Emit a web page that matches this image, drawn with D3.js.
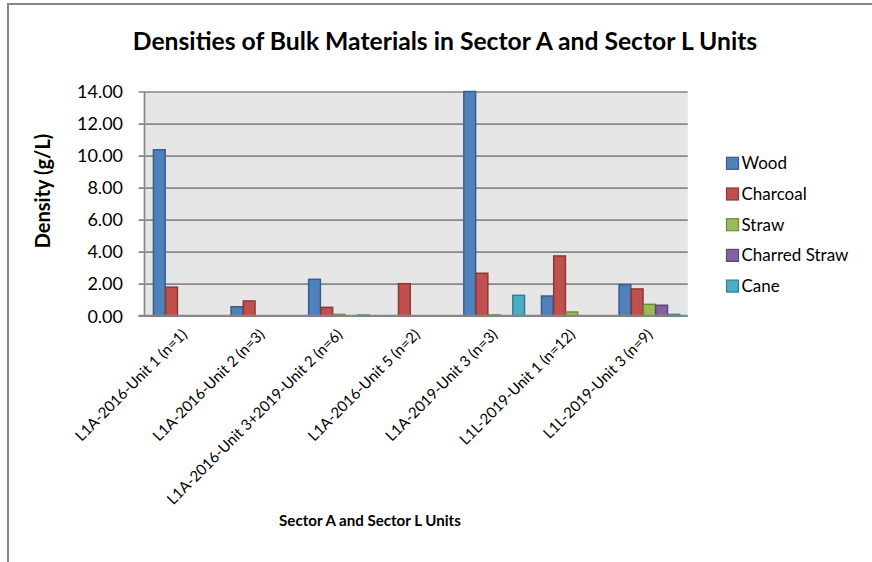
<!DOCTYPE html>
<html>
<head>
<meta charset="utf-8">
<script src="https://cdn.jsdelivr.net/npm/d3@7"></script>
<style>
  html, body { margin: 0; padding: 0; background: #fff; }
  svg { display: block; font-family: Lato, "Open Sans", sans-serif; }
</style>
</head>
<body>
<svg id="chart" width="872" height="562"></svg>
<script>
// Units sampled in Sector A and Sector L
const categories = [
  "L1A-2016-Unit 1 (n=1)",
  "L1A-2016-Unit 2 (n=3)",
  "L1A-2016-Unit 3+2019-Unit 2 (n=6)",
  "L1A-2016-Unit 5 (n=2)",
  "L1A-2019-Unit 3 (n=3)",
  "L1L-2019-Unit 1 (n=12)",
  "L1L-2019-Unit 3 (n=9)"
];

// Density (g/L) per material; null = not present
const wood         = [10.36, 0.56, 2.27, null, 14.00, 1.23, 1.94];
const charcoal     = [1.78, 0.92, 0.52, 2.00, 2.65, 3.73, 1.67];
const straw        = [null, null, 0.08, null, 0.05, 0.23, 0.71];
const charredStraw = [null, null, null, null, null, null, 0.65];
const cane         = [null, null, 0.04, null, 1.27, null, 0.08];

const seriesNames = ["Wood", "Charcoal", "Straw", "Charred Straw", "Cane"];
const yTicks = [0, 2, 4, 6, 8, 10, 12, 14];

const seriesValues = [wood, charcoal, straw, charredStraw, cane];
const fills   = ["#4F81BD", "#C0504D", "#9BBB59", "#8064A2", "#4BACC6"];
const strokes = ["#385D8A", "#8C3836", "#71893F", "#5C4776", "#357D91"];

const svg = d3.select("#chart");

// chart frame
svg.append("rect")
  .attr("x", 8).attr("y", 4)
  .attr("width", 880).attr("height", 580)
  .attr("fill", "#fff")
  .attr("stroke", "#868686")
  .attr("stroke-width", 2);

const plot = { left: 144.5, right: 687.7, top: 91.5, bottom: 315.7 };

const x = d3.scaleBand()
  .domain(categories)
  .range([plot.left, plot.right])
  .paddingInner(0).paddingOuter(0);

const gapHalf = x.bandwidth() * 0.1057;
const xs = d3.scaleBand()
  .domain(seriesNames)
  .range([gapHalf, x.bandwidth() - gapHalf]);

const y = d3.scaleLinear()
  .domain([0, 14])
  .range([plot.bottom, plot.top]);

// plot background
svg.append("rect")
  .attr("x", plot.left).attr("y", plot.top)
  .attr("width", plot.right - plot.left)
  .attr("height", plot.bottom - plot.top)
  .attr("fill", "#E6E6E6");

// y axis with gridlines
const yAxis = d3.axisLeft(y)
  .tickValues(yTicks)
  .tickSize(-(plot.right - plot.left + 6))
  .tickPadding(0)
  .tickFormat(d3.format(".2f"));

const gy = svg.append("g")
  .attr("transform", `translate(${plot.right},0)`)
  .call(yAxis);
gy.select(".domain").remove();
gy.selectAll(".tick line")
  .attr("x1", 0)
  .attr("x2", -(plot.right - plot.left + 6))
  .attr("stroke", "#878787")
  .attr("stroke-width", 1.7);
gy.selectAll(".tick text")
  .attr("x", -(plot.right - 123))
  .attr("dy", "0.35em")
  .attr("text-anchor", "end")
  .attr("fill", "#000")
  .style("font-size", "18px")
  .style("font-family", "Lato, sans-serif");

// vertical axis line
svg.append("line")
  .attr("x1", plot.left).attr("x2", plot.left)
  .attr("y1", plot.top).attr("y2", plot.bottom)
  .attr("stroke", "#878787").attr("stroke-width", 1.7);

// bars
const groups = svg.append("g").selectAll("g")
  .data(categories)
  .join("g")
  .attr("transform", d => `translate(${x(d)},0)`);

groups.selectAll("rect")
  .data((c, ci) => seriesNames.map((s, si) => ({ s, si, v: seriesValues[si][ci] }))
    .filter(d => d.v !== null))
  .join("rect")
  .attr("x", d => xs(d.s) + 0.75)
  .attr("width", xs.bandwidth() - 0.5)
  .attr("y", d => y(d.v))
  .attr("height", d => y(0) - y(d.v))
  .attr("fill", d => fills[d.si])
  .attr("stroke", d => strokes[d.si])
  .attr("stroke-width", 1.5);

// x axis line and rotated category labels
const xAxis = d3.axisBottom(x).tickSize(0).tickPadding(0);
const gx = svg.append("g")
  .attr("transform", `translate(0,${plot.bottom})`)
  .call(xAxis);
gx.select(".domain")
  .attr("d", `M${plot.left - 6},0H${plot.right}`)
  .attr("stroke", "#878787")
  .attr("stroke-width", 1.7);
gx.selectAll(".tick text")
  .attr("y", 0)
  .attr("dy", "0.35em")
  .attr("text-anchor", "end")
  .attr("transform", "translate(1,16) rotate(-45)")
  .attr("fill", "#000")
  .style("font-size", "15px")
  .style("font-family", "Lato, sans-serif");

// title
svg.append("text")
  .attr("x", 445).attr("y", 50)
  .attr("text-anchor", "middle")
  .style("font-size", "24.7px")
  .style("font-weight", "bold")
  .text("Densities of Bulk Materials in Sector A and Sector L Units");

// y axis title
svg.append("text")
  .attr("transform", "translate(50,191) rotate(-90)")
  .attr("text-anchor", "middle")
  .style("font-size", "20px")
  .style("font-weight", "bold")
  .text("Density (g/L)");

// x axis title
svg.append("text")
  .attr("x", 370).attr("y", 526)
  .attr("text-anchor", "middle")
  .style("font-size", "15.1px")
  .style("font-weight", "bold")
  .text("Sector A and Sector L Units");

// legend
const legend = svg.append("g").selectAll("g")
  .data(seriesNames)
  .join("g")
  .attr("transform", (d, i) => `translate(726,${163.3 + i * 30.7})`);
legend.append("rect")
  .attr("x", 0.5).attr("y", -6)
  .attr("width", 12).attr("height", 12)
  .attr("fill", (d, i) => fills[i])
  .attr("stroke", (d, i) => strokes[i])
  .attr("stroke-width", 1.2);
legend.append("text")
  .attr("x", 15.5).attr("dy", "0.35em")
  .style("font-size", "17px")
  .text(d => d);
</script>
</body>
</html>
